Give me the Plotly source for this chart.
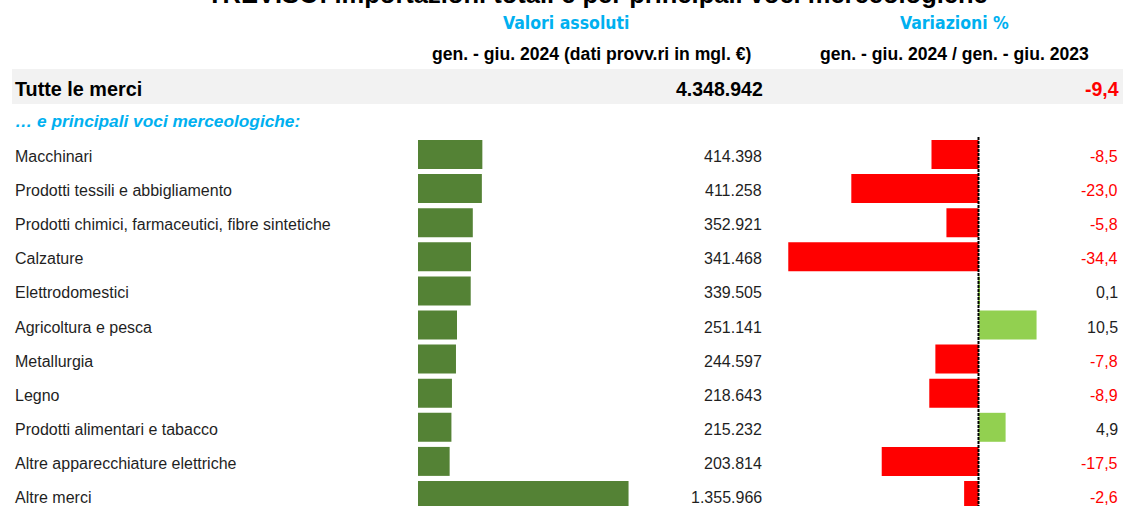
import plotly.graph_objects as go

# ---------------- data ----------------
title_text = "TREVISO: importazioni totali e per principali voci merceologiche"
head_abs = "Valori assoluti"
head_var = "Variazioni %"
sub_abs = "gen. - giu. 2024 (dati provv.ri in mgl. €)"
sub_var = "gen. - giu. 2024 / gen. - giu. 2023"
total_label = "Tutte le merci"
total_value = 4348942
total_var = -9.4
section_label = "… e principali voci merceologiche:"

categories = [
    "Macchinari",
    "Prodotti tessili e abbigliamento",
    "Prodotti chimici, farmaceutici, fibre sintetiche",
    "Calzature",
    "Elettrodomestici",
    "Agricoltura e pesca",
    "Metallurgia",
    "Legno",
    "Prodotti alimentari e tabacco",
    "Altre apparecchiature elettriche",
    "Altre merci",
]
values = [414398, 411258, 352921, 341468, 339505, 251141, 244597, 218643, 215232, 203814, 1355966]
variations = [-8.5, -23.0, -5.8, -34.4, 0.1, 10.5, -7.8, -8.9, 4.9, -17.5, -2.6]

# ---------------- styling ----------------
W, H = 1128, 506
GREEN = "#548235"
RED = "#FF0000"
LGREEN = "#92D050"
BLUE = "#00B0F0"
TXT = "#1F1F1F"
FONT = "Liberation Sans, Arial, sans-serif"
NARROW = "DejaVu Sans Condensed, Liberation Sans Narrow, sans-serif"


def fmt_int(v):
    return f"{v:,}".replace(",", ".")


def fmt_dec(v):
    return f"{v:.1f}".replace(".", ",")


def px_x(p):
    return p / W


def px_y(p):
    return 1 - p / H


rows = list(range(len(categories)))
row0_px, row_step = 154.5, 34.1
y_lo = (H - row0_px) / row_step
y_hi = -row0_px / row_step

abs_scale = 6440.0   # units per pixel
var_scale = 5.53     # pixels per percentage point
abs_dom = (418, 720)
var_dom = (780, 1120)
zero_px = 978.5

LEFT_X = 13
VAL_X = 764
VAR_X = 1120

fig = go.Figure()

fig.add_trace(go.Bar(
    x=values, y=rows, orientation="h", xaxis="x", yaxis="y",
    marker=dict(color=GREEN, line=dict(width=0)), width=0.85,
    hoverinfo="skip", showlegend=False,
))
fig.add_trace(go.Bar(
    x=variations, y=rows, orientation="h", xaxis="x2", yaxis="y",
    marker=dict(color=[RED if v < 0 else LGREEN for v in variations], line=dict(width=0)),
    width=0.85, hoverinfo="skip", showlegend=False,
))

ann = []
# title (cropped at top)
ann.append(dict(text=f"<b>{title_text}</b>", xref="paper", yref="paper", x=px_x(597), y=px_y(10),
                xanchor="center", yanchor="bottom", showarrow=False,
                font=dict(family=FONT, size=25.5, color="#000000")))
# headers
for t, cx in [(head_abs, 566), (head_var, 954)]:
    ann.append(dict(text=f"<b>{t}</b>", xref="paper", yref="paper", x=px_x(cx), y=px_y(23),
                    xanchor="center", yanchor="middle", showarrow=False,
                    font=dict(family=NARROW, size=17.5, color=BLUE)))
for t, cx in [(sub_abs, 591), (sub_var, 954)]:
    ann.append(dict(text=f"<b>{t}</b>", xref="paper", yref="paper", x=px_x(cx), y=px_y(54),
                    xanchor="center", yanchor="middle", showarrow=False,
                    font=dict(family=FONT, size=17.6, color="#000000")))
# total row
ann.append(dict(text=f"<b>{total_label}</b>", xref="paper", yref="paper", x=px_x(LEFT_X), y=px_y(88.5),
                xanchor="left", yanchor="middle", showarrow=False,
                font=dict(family=FONT, size=19.8, color="#000000")))
ann.append(dict(text=f"<b>{fmt_int(total_value)}</b>", xref="paper", yref="paper", x=px_x(VAL_X + 1), y=px_y(88.5),
                xanchor="right", yanchor="middle", showarrow=False,
                font=dict(family=FONT, size=19.5, color="#000000")))
ann.append(dict(text=f"<b>{fmt_dec(total_var)}</b>", xref="paper", yref="paper", x=px_x(VAR_X + 1), y=px_y(88.5),
                xanchor="right", yanchor="middle", showarrow=False,
                font=dict(family=FONT, size=19.5, color=RED if total_var < 0 else "#000000")))
# section label
ann.append(dict(text=f"<b><i>{section_label}</i></b>", xref="paper", yref="paper", x=px_x(LEFT_X), y=px_y(120.5),
                xanchor="left", yanchor="middle", showarrow=False,
                font=dict(family=FONT, size=17.3, color=BLUE)))
# rows
for i, (c, v, d) in enumerate(zip(categories, values, variations)):
    ann.append(dict(text=c, xref="paper", yref="y", x=px_x(LEFT_X), y=i, yshift=-2,
                    xanchor="left", yanchor="middle", showarrow=False,
                    font=dict(family=FONT, size=16, color=TXT)))
    ann.append(dict(text=fmt_int(v), xref="paper", yref="y", x=px_x(VAL_X), y=i, yshift=-2,
                    xanchor="right", yanchor="middle", showarrow=False,
                    font=dict(family=FONT, size=16, color=TXT)))
    ann.append(dict(text=fmt_dec(d), xref="paper", yref="y", x=px_x(VAR_X), y=i, yshift=-2,
                    xanchor="right", yanchor="middle", showarrow=False,
                    font=dict(family=FONT, size=16, color=RED if d < 0 else TXT)))

shapes = [
    dict(type="rect", xref="paper", yref="paper", x0=px_x(12), x1=px_x(1123), y0=px_y(104), y1=px_y(69),
         fillcolor="#F2F2F2", line=dict(width=0), layer="below"),
    dict(type="line", xref="x2", yref="paper", x0=0, x1=0, y0=px_y(137), y1=px_y(H + 5),
         line=dict(color="#000000", width=2, dash="3px,1px"), layer="above"),
]

fig.update_layout(
    width=W, height=H,
    margin=dict(l=0, r=0, t=0, b=0),
    paper_bgcolor="white", plot_bgcolor="white",
    barmode="overlay",
    showlegend=False,
    xaxis=dict(domain=[px_x(abs_dom[0]), px_x(abs_dom[1])],
               range=[0, (abs_dom[1] - abs_dom[0]) * abs_scale],
               visible=False, fixedrange=True),
    xaxis2=dict(domain=[px_x(var_dom[0]), px_x(var_dom[1])],
                range=[(var_dom[0] - zero_px) / var_scale, (var_dom[1] - zero_px) / var_scale],
                visible=False, fixedrange=True, anchor="y"),
    yaxis=dict(range=[y_lo, y_hi], visible=False, fixedrange=True),
    annotations=ann,
    shapes=shapes,
)

fig.write_html(
    "out.html",
    config={"displayModeBar": False},
    post_script="document.body.style.margin='0';document.body.style.overflow='hidden';",
)
